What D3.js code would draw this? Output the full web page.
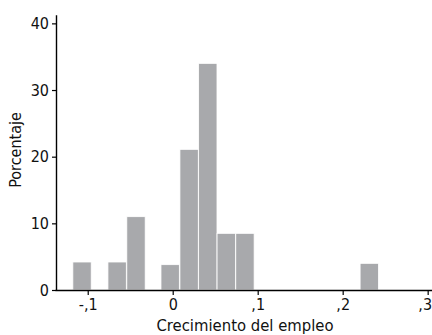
<!DOCTYPE html>
<html>
<head>
<meta charset="utf-8">
<script src="https://cdn.jsdelivr.net/npm/d3@7"></script>
<style>
  html, body { margin: 0; padding: 0; background: #fff; }
  svg { display: block; }
  text { font-family: "DejaVu Sans Condensed", "Liberation Sans Narrow", "Noto Sans", sans-serif; fill: #111; }
</style>
</head>
<body>
<svg id="chart" width="432" height="335"></svg>
<script>
// Histogram bins: left edge of each bar (employment growth) and its percentage
const binStarts = [-0.1175, -0.0762, -0.0540, -0.0138, 0.0085, 0.0305, 0.0522, 0.0742, 0.2205];
const percents  = [4.2, 4.2, 11.0, 3.8, 21.1, 34.0, 8.5, 8.5, 4.0];
const binWidth = 0.0216;

const xTicks = [-0.1, 0, 0.1, 0.2, 0.3];
const xTickLabels = ["-,1", "0", ",1", ",2", ",3"];
const yTicks = [0, 10, 20, 30, 40];

const svg = d3.select("#chart");

const x = d3.scaleLinear().domain([-0.1385, 0.3051]).range([55, 432]);
const y = d3.scaleLinear().domain([0, 41.3]).range([290, 14.7]);

// bars
svg.append("g")
  .selectAll("rect")
  .data(binStarts.map((s, i) => ({ s, p: percents[i] })))
  .join("rect")
  .attr("x", d => x(d.s))
  .attr("width", d => x(d.s + binWidth) - x(d.s))
  .attr("y", d => y(d.p))
  .attr("height", d => y(0) - y(d.p))
  .attr("fill", "#a8a9ac")
  .attr("stroke", "#ffffff")
  .attr("stroke-width", 0.8);

// x axis
const xAxis = d3.axisBottom(x)
  .tickValues(xTicks)
  .tickFormat((d, i) => xTickLabels[i])
  .tickSizeInner(5)
  .tickSizeOuter(0)
  .tickPadding(4);

const gx = svg.append("g")
  .attr("transform", `translate(0,${y(0)})`)
  .call(xAxis);
gx.select(".domain").attr("stroke", "#000").attr("stroke-width", 1.4);
gx.selectAll(".tick line").attr("stroke", "#000").attr("stroke-width", 1.2);
gx.selectAll(".tick text").attr("font-size", 16).attr("fill", "#111");
// keep the last label inside the right edge
gx.selectAll(".tick text").filter((d, i) => i === xTicks.length - 1).attr("dx", -3);

// y axis
const yAxis = d3.axisLeft(y)
  .tickValues(yTicks)
  .tickSizeInner(4)
  .tickSizeOuter(0)
  .tickPadding(3);

const gy = svg.append("g")
  .attr("transform", `translate(${x.range()[0] + 1},0)`)
  .call(yAxis);
gy.select(".domain").attr("stroke", "#000").attr("stroke-width", 1.4);
gy.selectAll(".tick line").attr("stroke", "#000").attr("stroke-width", 1.2);
gy.selectAll(".tick text").attr("font-size", 16).attr("fill", "#111");

// axis titles
svg.append("text")
  .attr("x", 245)
  .attr("y", 331)
  .attr("text-anchor", "middle")
  .attr("font-size", 16.5)
  .text("Crecimiento del empleo");

svg.append("text")
  .attr("transform", "translate(21,150) rotate(-90)")
  .attr("text-anchor", "middle")
  .attr("font-size", 16)
  .text("Porcentaje");
</script>
</body>
</html>
